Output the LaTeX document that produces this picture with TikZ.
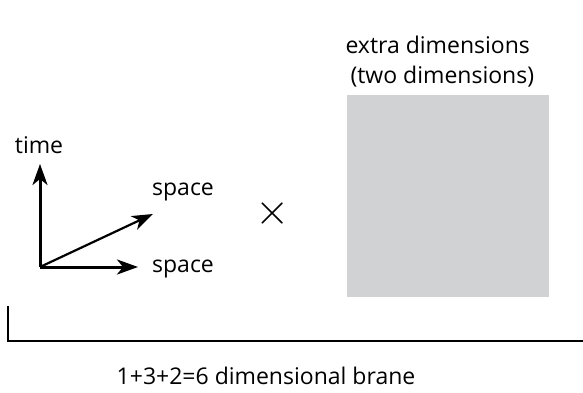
\documentclass[tikz,border=0pt]{standalone}
\usepackage{fontspec}
\setmainfont{Open Sans}
\usetikzlibrary{arrows.meta}
\definecolor{boxgray}{HTML}{D1D2D4}
\begin{document}
\begin{tikzpicture}[x=1pt,y=-1pt,font=\fontsize{23}{27}\selectfont,
  axis/.style={-{Stealth[length=21pt,width=15pt,inset=6pt]},line width=3pt},
  diag/.style={-{Stealth[length=21pt,width=15pt,inset=6pt]},line width=2.2pt}]
  \useasboundingbox (0,0) rectangle (583,393);
  % axes of our space-time
  \coordinate (o) at (40,267);
  \coordinate (t) at (40,164);
  \coordinate (s1) at (153,214);
  \coordinate (s2) at (138,267);
  \draw[axis] (o) -- (t);
  \draw[axis] (o) -- (s2);
  \draw[diag] (o) -- (s1);
  \node (time) at (39,145) {time};
  \node (spaceA) at (183,192) {space};
  \node (spaceB) at (183,269) {space};
  \node[font=\normalsize,scale=4.4] (times) at (273,213) {$\times$};
  % the extra dimensions
  \node[fill=boxgray,minimum width=202pt,minimum height=202pt,inner sep=0pt] (extra) at (448,196) {};
  \node[anchor=west] (lab1) at (342,45) {extra dimensions};
  \node[anchor=west] (lab2) at (347,77) {(two dimensions)};
  % the brane
  \coordinate (b0) at (8,306);
  \coordinate (b1) at (8,341);
  \coordinate (b2) at (583,341);
  \draw[line width=2.6pt] (b0) -- (b1) -- (b2);
  \node (brane) at (266,376) {1+3+2=6 dimensional brane};
\end{tikzpicture}
\end{document}
